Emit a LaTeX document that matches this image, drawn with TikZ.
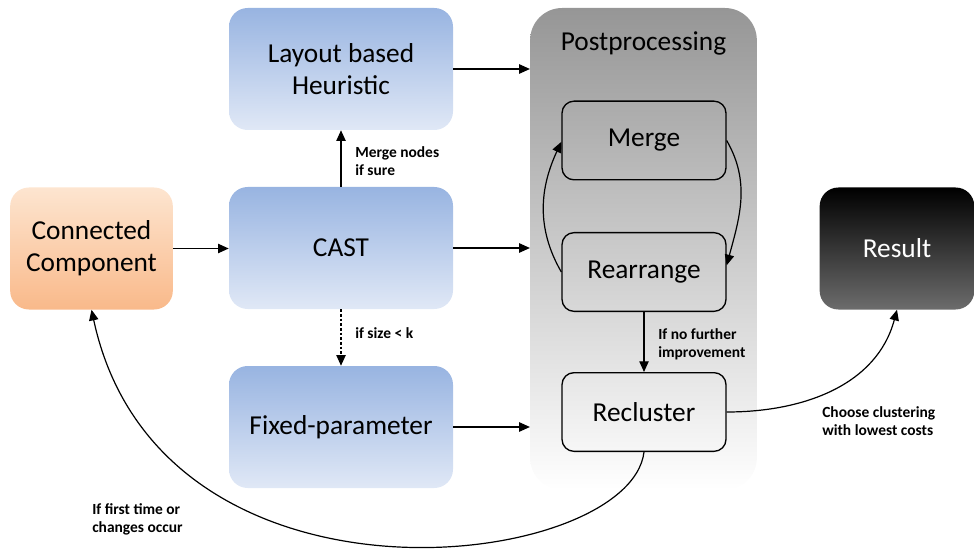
\documentclass[tikz,border=0pt]{standalone}
\usepackage{fontspec}
\setmainfont{Carlito}
\usetikzlibrary{arrows.meta}
\tikzset{
	box/.style={rounded corners=14pt, minimum width=168pt, minimum height=91.5pt, inner sep=0pt, align=center, font=\fontsize{20.5}{24}\selectfont},
	bluebox/.style={box, top color=blue1, bottom color=blue2, draw=none},
	stepbox/.style={draw=black, line width=1pt, rounded corners=9pt, minimum width=123pt, minimum height=59pt, inner sep=0pt, font=\fontsize{20.5}{24}\selectfont},
	lbl/.style={font=\bfseries\fontsize{11.6}{14}\selectfont, align=left, anchor=north west, inner sep=0pt},
	arr/.style={line width=0.9pt, -{Triangle[length=8pt,width=7pt]}}
}
\definecolor{blue1}{RGB}{152,180,225}
\definecolor{blue2}{RGB}{224,232,246}
\definecolor{orange1}{RGB}{253,229,208}
\definecolor{orange2}{RGB}{249,185,138}
\definecolor{grey1}{RGB}{150,150,150}
\definecolor{grey2}{RGB}{108,108,108}
\begin{document}
\begin{tikzpicture}[x=0.75pt, y=-0.75pt]
			%%%%% START %%%%%
			\useasboundingbox (0, 0) rectangle (974, 552);
			
			% postprocessing panel
			\node[rounded corners=24pt, top color=grey1, bottom color=white, minimum width=170pt, minimum height=361.5pt, inner sep=0pt] (post) at (643.5, 249) {};
			\node[font=\fontsize{20.5}{24}\selectfont] (posttitle) at (643.5, 43) {Postprocessing};
			
			% boxes
			\node[box, top color=orange1, bottom color=orange2, minimum width=122pt] (conn) at (91.5, 248.5) {Connected\\Component};
			\node[bluebox] (layout) at (341, 69) {Layout based\\Heuristic};
			\node[bluebox] (cast) at (341, 248) {CAST};
			\node[bluebox] (fixed) at (341, 427) {Fixed-parameter};
			\node[box, top color=black, bottom color=grey2, minimum width=116pt, text=white] (result) at (897, 248.5) {Result};
			
			\node[stepbox] (merge) at (644, 140.5) {Merge};
			\node[stepbox] (rearr) at (644, 272) {Rearrange};
			\node[stepbox] (reclus) at (644, 412) {Recluster};
			
			% arrows
			\draw[arr] (conn) -- (conn -| cast.west);
			\draw[arr] (layout.east) -- (layout -| post.west);
			\draw[arr] (cast.east) -- (cast -| post.west);
			\draw[arr] (fixed.east) -- (fixed -| post.west);
			\draw[arr] (cast.north) -- (layout.south);
			\draw[arr, dash pattern=on 2pt off 1.5pt] (cast.south) -- (fixed.north);
			\draw[arr] (merge.east) to[out=-60, in=75] ([yshift=5pt]rearr.east);
			\draw[arr] (rearr.west) to[out=120, in=-115] ([yshift=-1pt]merge.west);
			\draw[arr] (rearr.south) -- (reclus.north);
			\draw[arr] (reclus.east) to[out=0, in=-105] (result.south);
			\draw[arr] (reclus.south) .. controls +(-14, 118) and +(69, 320) .. (conn.south);
			
			% labels
			\node[lbl] (lmerge) at (355, 146) {Merge nodes\\if sure};
			\node[lbl] (lsize) at (355, 327) {if size < k};
			\node[lbl] (limpr) at (658, 328) {If no further\\improvement};
			\node[lbl] (lcost) at (822, 406) {Choose clustering\\with lowest costs};
			\node[lbl] (lfirst) at (92, 503) {If first time or\\changes occur};
			%%%%% END %%%%%
\end{tikzpicture}
\end{document}
